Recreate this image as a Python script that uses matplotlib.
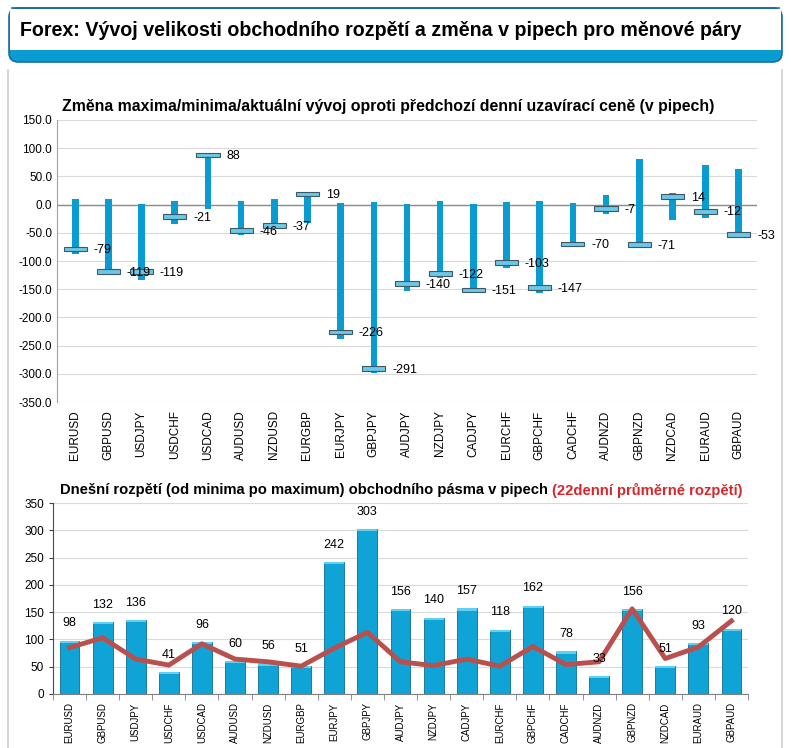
import matplotlib
matplotlib.use('Agg')
import matplotlib.pyplot as plt
from matplotlib.patches import FancyBboxPatch, Rectangle
from matplotlib.lines import Line2D
import numpy as np

# currency pairs
pairs = ['EURUSD', 'GBPUSD', 'USDJPY', 'USDCHF', 'USDCAD', 'AUDUSD', 'NZDUSD',
         'EURGBP', 'EURJPY', 'GBPJPY', 'AUDJPY', 'NZDJPY', 'CADJPY', 'EURCHF',
         'GBPCHF', 'CADCHF', 'AUDNZD', 'GBPNZD', 'NZDCAD', 'EURAUD', 'GBPAUD']

# change vs previous close (pips)
day_max = [10, 10, 1, 7, 88, 7, 10, 20, 2, 5, 1, 7, 1, 5, 7, 3, 17, 81, 21, 71, 63]
day_min = [-88, -122, -134, -34, -8, -54, -43, -33, -239, -298, -153, -130, -155,
           -113, -156, -76, -17, -75, -28, -24, -53]
current = [-79, -119, -119, -21, 88, -46, -37, 19, -226, -291, -140, -122, -151,
           -103, -147, -70, -7, -71, 14, -12, -53]

# today's range and 22-day average range
today_range = [98, 132, 136, 41, 96, 60, 56, 51, 242, 303, 156, 140, 157, 118,
               162, 78, 33, 156, 51, 93, 120]
avg_range = [85, 103, 64, 53, 92, 64, 59, 51, 84, 113, 59, 52, 64, 51, 87, 54,
             59, 156, 65, 86, 134]

blue = '#0a9bd1'
font = 'Liberation Sans'
plt.rcParams['font.family'] = [font, 'DejaVu Sans']

fig = plt.figure(figsize=(7.91, 7.48), dpi=100)
W, H = 791, 748

def fx(px):
    return px / W

def fy(py):
    return 1 - py / H

# header box
band = FancyBboxPatch((fx(9), fy(62)), fx(773), fy(8) - fy(62),
                      boxstyle='round,pad=0,rounding_size=0.012',
                      transform=fig.transFigure, facecolor=blue,
                      edgecolor='#1a6ea0', lw=1.2)
fig.patches.append(band)
fig.patches.append(Rectangle((fx(10), fy(50)), fx(771), fy(9) - fy(50),
                             transform=fig.transFigure, facecolor='white',
                             edgecolor='none'))
fig.lines.append(Line2D([fx(12), fx(779)], [fy(8), fy(8)], transform=fig.transFigure,
                        color='#1a6ea0', lw=1.2))
fig.text(fx(20), fy(30), 'Forex: Vývoj velikosti obchodního rozpětí a změna v pipech pro měnové páry',
         fontweight='bold', fontsize=14.1, va='center', ha='left')

# panel borders
for xp in (8, 782):
    fig.lines.append(Line2D([fx(xp), fx(xp)], [fy(70), 0], transform=fig.transFigure,
                            color='#d0d0d0', lw=1.2))

x = np.arange(len(pairs))

# top chart
ax1 = fig.add_axes([fx(57), fy(402), fx(700), fy(120) - fy(402)])
heights = np.array(day_max) - np.array(day_min)
ax1.bar(x, heights, bottom=day_min, width=0.2, color=blue, zorder=3)
mh = 8
ax1.bar(x, mh, bottom=np.array(current) - mh / 2, width=0.7, color='#6cc8e8',
        edgecolor='#3d5866', lw=0.8, zorder=4)
for xi, c in zip(x, current):
    ax1.text(xi + 0.55, c - 2, str(c), va='center', ha='left', fontsize=9, zorder=5)
ax1.set_xlim(-0.55, len(pairs) - 0.45)
ax1.set_ylim(-350, 150)
ax1.set_yticks(np.arange(-350, 151, 50))
ax1.set_yticklabels(['%.1f' % v for v in np.arange(-350, 151, 50)], fontsize=8.5)
ax1.set_xticks(x)
ax1.set_xticklabels(pairs, rotation=90, fontsize=8.5)
ax1.tick_params(axis='both', length=0)
ax1.tick_params(axis='x', pad=6)
ax1.grid(axis='y', color='#d9d9d9', lw=0.8, zorder=0)
ax1.axhline(0, color='#8c8c8c', lw=1, zorder=2)
for s in ('top', 'right', 'bottom'):
    ax1.spines[s].set_visible(False)
ax1.spines['left'].set_color('#a0a0a0')
fig.text(fx(62), fy(107), 'Změna maxima/minima/aktuální vývoj oproti předchozí denní uzavírací ceně (v pipech)',
         fontsize=11.4, fontweight='bold', va='center', ha='left')

# bottom chart
ax2 = fig.add_axes([fx(53), fy(694), fx(695), fy(503) - fy(694)])
ax2.bar(x, today_range, width=0.6, color='#10a3d6', edgecolor='#0b6f93', lw=0.6, zorder=3)
ax2.bar(x, 4, bottom=np.array(today_range) - 4, width=0.6, color='#5fd0f2',
        edgecolor='none', zorder=3)
ax2.plot(x, avg_range, color='#b9504d', lw=3.5, zorder=4, solid_joinstyle='round')
for xi, v in zip(x, today_range):
    ax2.annotate(str(v), (xi, v), xytext=(0, 8), textcoords='offset points',
                 ha='center', va='bottom', fontsize=9, zorder=5)
ax2.set_xlim(-0.5, len(pairs) - 0.5)
ax2.set_ylim(0, 350)
ax2.set_yticks(np.arange(0, 351, 50))
ax2.tick_params(axis='y', labelsize=8.5, length=3, color='#404040')
ax2.set_xticks(x)
ax2.set_xticklabels(pairs, rotation=90, fontsize=7)
ax2.set_xticks(np.arange(-0.5, len(pairs)), minor=True)
ax2.tick_params(axis='x', which='major', length=0, pad=6)
ax2.tick_params(axis='x', which='minor', length=4, color='#808080')
ax2.grid(axis='y', color='#d9d9d9', lw=0.8, zorder=0)
for s in ('top', 'right'):
    ax2.spines[s].set_visible(False)
ax2.spines['left'].set_color('#404a60')
ax2.spines['bottom'].set_color('#808080')

t1 = fig.text(fx(60), fy(490), 'Dnešní rozpětí (od minima po maximum) obchodního pásma v pipech ',
              fontsize=10.6, fontweight='bold', va='center', ha='left')
fig.canvas.draw()
bb = t1.get_window_extent()
fig.text(bb.x1 / fig.dpi / fig.get_figwidth(), fy(490), '(22denní průměrné rozpětí)',
         fontsize=10.6, fontweight='bold', va='center', ha='left', color='#d9262c')

plt.savefig('out.png', dpi=100)
